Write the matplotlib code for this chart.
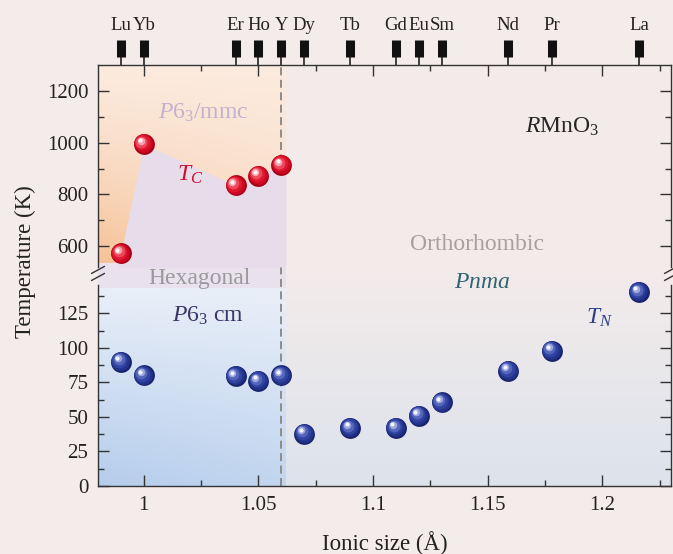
import numpy as np
import matplotlib
matplotlib.use('Agg')
import matplotlib.pyplot as plt
from matplotlib import transforms
from matplotlib.colors import to_rgb

plt.rcParams['font.family'] = ['Liberation Serif', 'DejaVu Serif']
plt.rcParams['mathtext.fontset'] = 'custom'
plt.rcParams['mathtext.rm'] = 'Liberation Serif'
plt.rcParams['mathtext.it'] = 'Liberation Serif:italic'

# rare-earth ions and their ionic size (Angstrom)
elements = ['Lu', 'Yb', 'Er', 'Ho', 'Y', 'Dy', 'Tb', 'Gd', 'Eu', 'Sm', 'Nd', 'Pr', 'La']
ionic = [0.990, 1.000, 1.040, 1.050, 1.060, 1.070, 1.090, 1.110, 1.120, 1.130, 1.159, 1.178, 1.216]

# ferroelectric transition T_C (hexagonal members only)
tc_x = [0.990, 1.000, 1.040, 1.050, 1.060]
tc_y = [573, 995, 835, 873, 914]

# Neel temperature T_N
tn_x = ionic
tn_y = [90, 80, 79.5, 76, 80, 38, 42, 42, 51, 60.5, 83.5, 98, 140.5]

xmajor = [1.0, 1.05, 1.1, 1.15, 1.2]
xmajor_lab = ['1', '1.05', '1.1', '1.15', '1.2']
xminor = [1.025, 1.075, 1.125, 1.175, 1.225]

XLIM = (0.98, 1.23)
hex_edge = 1.062   # right border of the hexagonal shading
y_break = 520      # bottom of the high temperature panel

FIG_BG = '#f4ecea'
fig = plt.figure(figsize=(6.73, 5.54), dpi=100, facecolor=FIG_BG)

L, R = 98 / 673, 671 / 673
def fy(px):
    return 1 - px / 554

ax_bg = fig.add_axes([L, fy(486), R - L, fy(65) - fy(486)])
ax_top = fig.add_axes([L, fy(267), R - L, fy(65) - fy(267)])
ax_bot = fig.add_axes([L, fy(486), R - L, fy(285) - fy(486)])
for a in (ax_top, ax_bot):
    a.set_facecolor('none')
ax_bg.axis('off')

# ---- background shading
def grad_img(c0, c1, tfun, n=80):
    u = np.linspace(0, 1, n)
    U, V = np.meshgrid(u, u)
    t = np.clip(tfun(U, V), 0, 1)[..., None]
    return (1 - t) * np.array(to_rgb(c0)) + t * np.array(to_rgb(c1))

band_lo, band_hi = 0.47, 0.53
img = grad_img('#fcefe6', '#f6c298', lambda U, V: 0.1 + 0.9 * (1 - V) ** 1.3 * (1 - 0.55 * U))
ax_bg.imshow(img, origin='lower', extent=(XLIM[0], hex_edge, band_hi, 1), aspect='auto', interpolation='bilinear')
img = grad_img('#e9eff8', '#b5cdec', lambda U, V: (1 - V) * (0.75 + 0.25 * (1 - U)))
ax_bg.imshow(img, origin='lower', extent=(XLIM[0], hex_edge, 0, band_lo), aspect='auto', interpolation='bilinear')
ax_bg.axhspan(band_lo, band_hi, xmin=0, xmax=(hex_edge - XLIM[0]) / (XLIM[1] - XLIM[0]), color='#e9e2ec', lw=0)
img = grad_img('#f3ebea', '#dde3ec', lambda U, V: (0.5 - V) / 0.5)
ax_bg.imshow(img, origin='lower', extent=(hex_edge, XLIM[1], 0, 1), aspect='auto', interpolation='bilinear')
ax_bg.axvline(1.06, color='#8c8c8c', ls=(0, (4.1, 2.3)), lw=1.4)
ax_bg.set_xlim(*XLIM)
ax_bg.set_ylim(0, 1)

# lavender region under the T_C curve
slope = (tc_y[1] - tc_y[0]) / (tc_x[1] - tc_x[0])
fx = [tc_x[0] - (tc_y[0] - y_break) / slope] + tc_x + [hex_edge]
fyv = [y_break] + tc_y + [tc_y[-1]]
ax_top.fill_between(fx, fyv, y_break, color='#e7dcea', lw=0, zorder=1)

# ---- shaded ball markers
def spheres(ax, x, y, shades, size=225):
    for k, (c, f, off) in enumerate(shades):
        tr = transforms.offset_copy(ax.transData, fig=fig, x=-off, y=off, units='points')
        ax.scatter(x, y, s=size * f, color=c, lw=0, transform=tr, zorder=5 + k, clip_on=False)

red = [('#a80016', 1.0, 0), ('#cc0822', 0.8, 0.5), ('#e0172f', 0.56, 1.1),
       ('#ec4a5c', 0.32, 1.7), ('#f7a3ad', 0.13, 2.3), ('#fff6f6', 0.04, 2.6)]
blue = [('#19246e', 1.0, 0), ('#24348c', 0.8, 0.5), ('#3144a3', 0.56, 1.1),
        ('#5465ba', 0.32, 1.7), ('#9ca8dd', 0.13, 2.3), ('#f2f4ff', 0.04, 2.6)]
spheres(ax_top, tc_x, tc_y, red)
spheres(ax_bot, tn_x, tn_y, blue)

# ---- axes styling
spine_c = '#333333'
for a in (ax_top, ax_bot):
    for s in a.spines.values():
        s.set_color(spine_c)
        s.set_linewidth(1.0)
    a.set_xticks(xmajor)
    a.set_xticks(xminor, minor=True)
    a.tick_params(which='both', direction='in', left=True, right=True, color=spine_c,
                  labelsize=15, labelcolor='#222222', pad=7, width=1.0)
    a.tick_params(which='major', length=8)
    a.tick_params(which='minor', length=4.5)
ax_top.spines['bottom'].set_visible(False)
ax_bot.spines['top'].set_visible(False)
ax_top.tick_params(axis='x', which='both', bottom=False, top=True, labelbottom=False)
ax_bot.tick_params(axis='x', which='both', bottom=True, top=False)
ax_bot.set_xticklabels(xmajor_lab)

ax_top.set_yticks([600, 800, 1000, 1200])
ax_top.set_yticks([700, 900, 1100], minor=True)
ax_bot.set_yticks([0, 25, 50, 75, 100, 125])
ax_bot.set_yticks([12.5, 37.5, 62.5, 87.5, 112.5, 137.5], minor=True)
for a in (ax_top, ax_bot):
    a.set_xlim(*XLIM)
ax_top.set_ylim(y_break, 1300)
ax_bot.set_ylim(0, 145.5)

# axis break marks
for xs in (0, 1):
    for yc in (1.075, 1.040):
        ax_bot.plot([xs - 0.011, xs + 0.011], [yc - 0.017, yc + 0.017], color=spine_c,
                    lw=1.0, transform=ax_bot.transAxes, clip_on=False)

# ---- rare-earth markers along the top
tr_top = transforms.blended_transform_factory(ax_top.transData, ax_top.transAxes)
ax_top.vlines(ionic, 1.0, 1.04, color='#111111', lw=1.1, transform=tr_top, clip_on=False)
ax_top.vlines(ionic, 1.04, 1.124, color='#111111', lw=6.5, transform=tr_top, clip_on=False)
for xe, name in zip(ionic, elements):
    ax_top.text(xe, 1.198, name, transform=tr_top, ha='center', va='center',
                fontsize=13.5, color='#222222')

# ---- labels
ax_top.text(1.0258, 1115, r'$P$6$_3$/mmc', fontsize=17, color='#c4b1cb', ha='center', va='center')
ax_top.text(1.020, 875, r'$T_C$', fontsize=17, color='#cc1030', ha='center', va='center')
ax_top.text(1.1824, 1061, r'$R$MnO$_3$', fontsize=17, color='#262626', ha='center', va='center')
ax_top.text(1.1454, 605, 'Orthorhombic', fontsize=17, color='#a6a0a0', ha='center', va='center')
ax_bot.text(1.0245, 150, 'Hexagonal', fontsize=17, color='#9a9a9c', ha='center', va='center')
ax_bot.text(1.028, 123.5, r'$P$6$_3$ cm', fontsize=17, color='#3a3566', ha='center', va='center')
ax_bot.text(1.1475, 147.4, r'$Pnma$', fontsize=17, color='#2f6470', ha='center', va='center')
ax_bot.text(1.199, 122, r'$T_N$', fontsize=17, color='#2c3f8a', ha='center', va='center')

ax_bot.set_xlabel('Ionic size (Å)', fontsize=16.5, color='#222222', labelpad=12)
fig.text(25 / 673, fy(262), 'Temperature (K)', rotation=90, fontsize=16.5,
         color='#222222', ha='center', va='center')

fig.savefig('out.png', dpi=100, facecolor=FIG_BG)
